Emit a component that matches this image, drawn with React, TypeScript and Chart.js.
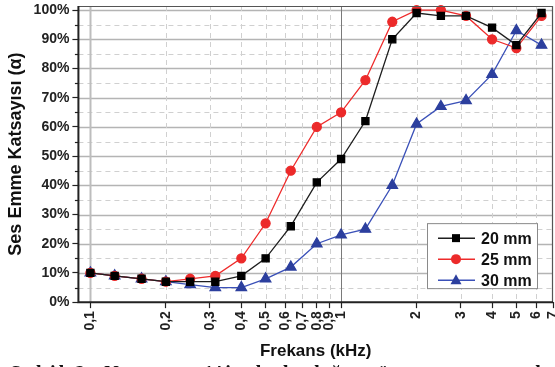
import { useEffect, useRef } from 'react';
import { Chart, registerables } from 'chart.js';
Chart.register(...registerables);

const FONT = "'Liberation Sans', Arial, sans-serif";

const freqs = [0.1, 0.125, 0.16, 0.2, 0.25, 0.315, 0.4, 0.5, 0.63, 0.8, 1, 1.25, 1.6, 2, 2.5, 3.15, 4, 5, 6.3];
const s20 = [10, 9, 8, 7, 7, 7, 9, 15, 26, 41, 49, 62, 90, 99, 98, 98, 94, 88, 99];
const s25 = [10, 9, 8, 7, 8, 9, 15, 27, 45, 60, 65, 76, 96, 100, 100, 98, 90, 87, 98];
const s30 = [10, 9, 8, 7, 6, 5, 5, 8, 12, 20, 23, 25, 40, 61, 67, 69, 78, 93, 88];
const seriesLabels = ['20 mm', '25 mm', '30 mm'];

const xTickValues = [0.1, 0.2, 0.3, 0.4, 0.5, 0.6, 0.7, 0.8, 0.9, 1, 2, 3, 4, 5, 6, 7];
const xTickLabels = ['0,1', '0,2', '0,3', '0,4', '0,5', '0,6', '0,7', '0,8', '0,9', '1', '2', '3', '4', '5', '6', '7'];
const yTickValues = [0, 5, 10, 15, 20, 25, 30, 35, 40, 45, 50, 55, 60, 65, 70, 75, 80, 85, 90, 95, 100];

const xTitle = 'Frekans (kHz)';
const yTitle = 'Ses Emme Katsayısı (α)';
const caption = "Şekil 2. Numune 1'in kalınlığa göre ses emme katsayısı";

const gridPlugin = {
  id: 'customGrid',
  beforeDatasetsDraw(chart: any) {
    const { ctx, chartArea, scales } = chart;
    const { left, right, top, bottom } = chartArea;
    const x = scales.x, y = scales.y;
    ctx.save();
    for (const v of yTickValues) {
      if (v === 0) continue;
      const py = Math.round(y.getPixelForValue(v)) + 0.5;
      ctx.beginPath();
      if (v % 10 === 0) {
        ctx.setLineDash([]);
        ctx.strokeStyle = '#b4b4b4';
        ctx.lineWidth = 1.3;
      } else {
        ctx.setLineDash([5, 4]);
        ctx.strokeStyle = '#d0d0d0';
        ctx.lineWidth = 1;
      }
      ctx.moveTo(left, py);
      ctx.lineTo(right, py);
      ctx.stroke();
    }
    for (const v of xTickValues) {
      const px = Math.round(x.getPixelForValue(v)) + 0.5;
      if (px > right - 1) continue;
      ctx.beginPath();
      if (v === 1) {
        ctx.setLineDash([]);
        ctx.strokeStyle = '#7a7a7a';
        ctx.lineWidth = 1;
      } else if (v === 0.1) {
        ctx.setLineDash([]);
        ctx.strokeStyle = '#bdbdbd';
        ctx.lineWidth = 2;
      } else {
        ctx.setLineDash([5, 4]);
        ctx.strokeStyle = '#d0d0d0';
        ctx.lineWidth = 1;
      }
      ctx.moveTo(px, top);
      ctx.lineTo(px, bottom);
      ctx.stroke();
    }
    ctx.restore();
  },
  afterDatasetsDraw(chart: any) {
    const { ctx, chartArea, scales } = chart;
    const { left, right, top, bottom } = chartArea;
    const y = scales.y;
    ctx.save();
    ctx.setLineDash([]);
    // frame
    ctx.strokeStyle = '#555';
    ctx.lineWidth = 1.2;
    ctx.beginPath();
    ctx.moveTo(left, top + 0.5);
    ctx.lineTo(right - 0.5, top + 0.5);
    ctx.lineTo(right - 0.5, bottom);
    ctx.stroke();
    ctx.strokeStyle = '#222';
    ctx.lineWidth = 2;
    ctx.beginPath();
    ctx.moveTo(left, top);
    ctx.lineTo(left, bottom);
    ctx.lineTo(right, bottom);
    ctx.stroke();
    // minor y ticks
    ctx.lineWidth = 1.2;
    for (const v of yTickValues) {
      if (v % 10 === 0) continue;
      const py = Math.round(y.getPixelForValue(v)) + 0.5;
      ctx.beginPath();
      ctx.moveTo(left - 3.5, py);
      ctx.lineTo(left, py);
      ctx.stroke();
    }
    // legend
    const bw = 110, bh = 65;
    const bx = right - 16 - bw, by = bottom - 14 - bh;
    ctx.fillStyle = '#fff';
    ctx.fillRect(bx, by, bw, bh);
    ctx.strokeStyle = '#8a8a8a';
    ctx.lineWidth = 1;
    ctx.strokeRect(bx + 0.5, by + 0.5, bw, bh);
    chart.data.datasets.forEach((ds: any, i: number) => {
      const ry = by + 15 + i * 21;
      ctx.strokeStyle = ds.borderColor;
      ctx.lineWidth = 1.5;
      ctx.beginPath();
      ctx.moveTo(bx + 11, ry);
      ctx.lineTo(bx + 48, ry);
      ctx.stroke();
      ctx.fillStyle = ds.pointBackgroundColor;
      const cx = bx + 29;
      ctx.beginPath();
      if (ds.pointStyle === 'rect') {
        ctx.rect(cx - 4, ry - 4, 8, 8);
      } else if (ds.pointStyle === 'circle') {
        ctx.arc(cx, ry, 5, 0, Math.PI * 2);
      } else {
        ctx.moveTo(cx, ry - 6);
        ctx.lineTo(cx + 5.5, ry + 4);
        ctx.lineTo(cx - 5.5, ry + 4);
        ctx.closePath();
      }
      ctx.fill();
      ctx.fillStyle = '#111';
      ctx.font = `bold 16px ${FONT}`;
      ctx.textBaseline = 'middle';
      ctx.textAlign = 'left';
      ctx.fillText(ds.label, bx + 54, ry + 1);
    });
    ctx.restore();
  },
};

export default function App() {
  const ref = useRef<HTMLCanvasElement>(null);
  useEffect(() => {
    document.body.style.margin = '0';
    const mk = (vals: number[]) => freqs.map((f, i) => ({ x: f, y: vals[i] }));
    const chart = new Chart(ref.current as HTMLCanvasElement, {
      type: 'line',
      data: {
        datasets: [
          {
            label: seriesLabels[0],
            data: mk(s20),
            borderColor: '#1e1e1e',
            backgroundColor: '#000',
            pointBackgroundColor: '#000',
            pointBorderColor: '#000',
            pointStyle: 'rect',
            pointRadius: 5,
            borderWidth: 1.3,
          },
          {
            label: seriesLabels[1],
            data: mk(s25),
            borderColor: '#ee2b2b',
            backgroundColor: '#ee2b2b',
            pointBackgroundColor: '#ec2a2a',
            pointBorderColor: '#ec2a2a',
            pointStyle: 'circle',
            pointRadius: 4.5,
            borderWidth: 1.3,
          },
          {
            label: seriesLabels[2],
            data: mk(s30),
            borderColor: '#3a50b8',
            backgroundColor: '#2c3f9e',
            pointBackgroundColor: '#2c3f9e',
            pointBorderColor: '#2c3f9e',
            pointStyle: 'triangle',
            pointRadius: 6,
            borderWidth: 1.3,
          },
        ],
      },
      options: {
        responsive: false,
        animation: false,
        devicePixelRatio: 1,
        clip: false,
        layout: { autoPadding: false, padding: { left: 2, right: 2, top: 6, bottom: 3 } },
        plugins: { legend: { display: false }, tooltip: { enabled: false } },
        scales: {
          x: {
            type: 'logarithmic',
            min: 0.0896,
            max: 7,
            border: { display: false },
            grid: { display: true, drawOnChartArea: false, drawTicks: true, tickLength: 6, tickColor: '#222', tickWidth: 1.2 },
            afterBuildTicks: (s: any) => {
              s.ticks = xTickValues.map((v) => ({ value: v }));
            },
            afterFit: (s: any) => {
              s.paddingRight = 0;
              s.paddingLeft = 0;
            },
            ticks: {
              autoSkip: false,
              minRotation: 90,
              maxRotation: 90,
              padding: 3,
              color: '#222',
              font: { family: FONT, size: 14, weight: 'bold' },
              callback: (v: any) => {
                const i = xTickValues.findIndex((t) => Math.abs(t - Number(v)) < 1e-9);
                return i >= 0 ? xTickLabels[i] : '';
              },
            },
            title: {
              display: true,
              text: xTitle,
              color: '#111',
              font: { family: FONT, size: 17, weight: 'bold' },
              padding: { top: 8, bottom: 2 },
            },
          },
          y: {
            type: 'linear',
            min: 0,
            max: 101.4,
            border: { display: false },
            grid: {
              display: true,
              drawOnChartArea: false,
              drawTicks: true,
              tickLength: 6,
              tickWidth: 1.2,
              tickColor: (c: any) => (c.tick && c.tick.value % 10 === 0 ? '#222' : 'rgba(0,0,0,0)'),
            },
            afterBuildTicks: (s: any) => {
              s.ticks = yTickValues.map((v) => ({ value: v }));
            },
            afterFit: (s: any) => {
              s.paddingTop = 0;
              s.paddingBottom = 0;
            },
            ticks: {
              autoSkip: false,
              padding: 3,
              color: '#222',
              font: { family: FONT, size: 14, weight: 'bold' },
              callback: (v: any) => (Number(v) % 10 === 0 ? `${v}%` : ''),
            },
            title: {
              display: true,
              text: yTitle,
              color: '#111',
              font: { family: FONT, size: 18, weight: 'bold' },
              padding: { top: 3, bottom: 4 },
            },
          },
        },
      },
      plugins: [gridPlugin],
    } as any);
    return () => chart.destroy();
  }, []);
  return (
    <div style={{ position: 'relative', width: 555, height: 367, overflow: 'hidden', background: '#fff' }}>
      <canvas ref={ref} width={555} height={367} style={{ position: 'absolute', left: 0, top: 0 }} />
      <div
        style={{
          position: 'absolute',
          left: 10,
          top: 363,
          fontFamily: "'Liberation Serif', serif",
          fontSize: 20,
          fontWeight: 'bold',
          letterSpacing: 3,
          lineHeight: '20px',
          whiteSpace: 'nowrap',
          color: '#111',
        }}
      >
        {caption}
      </div>
    </div>
  );
}
